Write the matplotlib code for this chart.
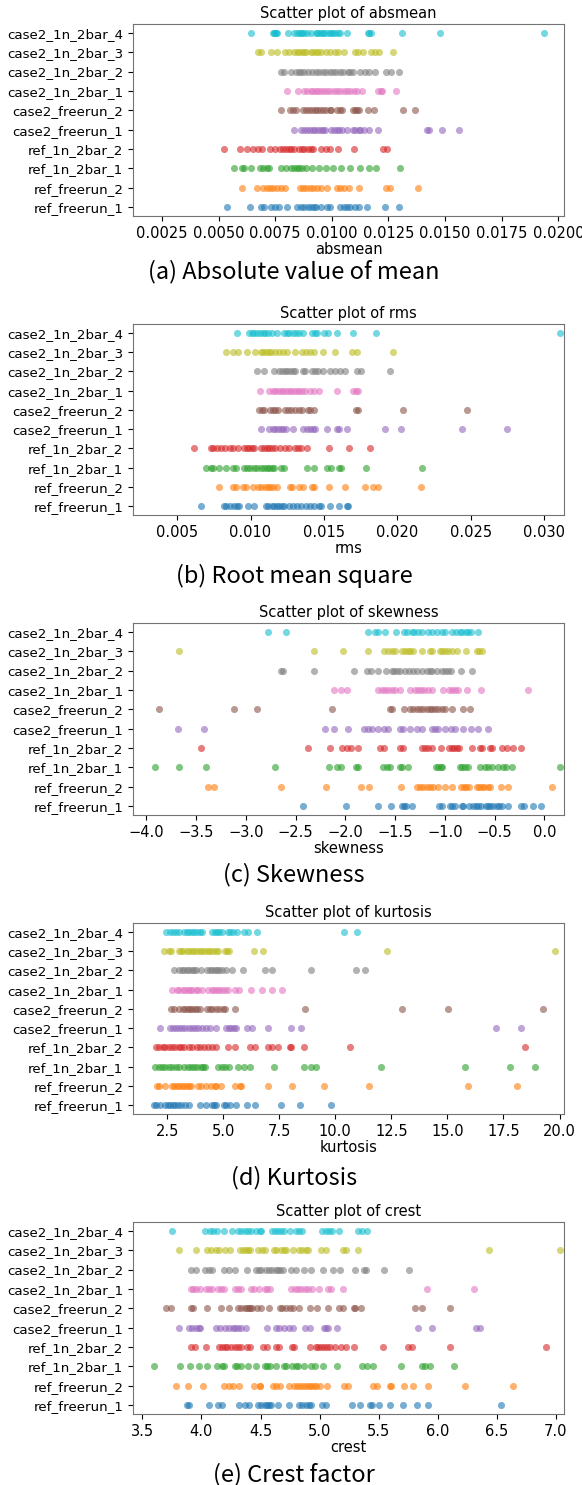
import matplotlib.pyplot as plt

categories = ['ref_freerun_1', 'ref_freerun_2', 'ref_1n_2bar_1', 'ref_1n_2bar_2',
              'case2_freerun_1', 'case2_freerun_2', 'case2_1n_2bar_1',
              'case2_1n_2bar_2', 'case2_1n_2bar_3', 'case2_1n_2bar_4']

# ---- absmean ----
absmean_ref_freerun_1 = [0.00538, 0.00637, 0.00685, 0.0070, 0.00732, 0.00751, 0.00766, 0.0080, 0.00847, 0.00862,
                         0.00879, 0.00896, 0.00909, 0.00921, 0.00932, 0.00953, 0.00979, 0.00991, 0.01038, 0.01053,
                         0.01065, 0.01082, 0.01104, 0.01119, 0.01156, 0.01234, 0.01296]
absmean_ref_freerun_2 = [0.00604, 0.00668, 0.00697, 0.00712, 0.00726, 0.00741, 0.00759, 0.00774, 0.00791, 0.00859,
                         0.00874, 0.00888, 0.00903, 0.00918, 0.00935, 0.00953, 0.00979, 0.01024, 0.01038, 0.01053,
                         0.01075, 0.01119, 0.01237, 0.01257, 0.0138]
absmean_ref_1n_2bar_1 = [0.0057, 0.00604, 0.00614, 0.00644, 0.00682, 0.00697, 0.00715, 0.00724, 0.00774, 0.00796,
                         0.00818, 0.00832, 0.00844, 0.00854, 0.00866, 0.00885, 0.00913, 0.00944, 0.00972, 0.01006,
                         0.01041, 0.01082, 0.01126, 0.01163, 0.01193, 0.01303]
absmean_ref_1n_2bar_2 = [0.00524, 0.00594, 0.00626, 0.00653, 0.00674, 0.0069, 0.00726, 0.00751, 0.00771, 0.00785,
                         0.00797, 0.00809, 0.00821, 0.00832, 0.00854, 0.00868, 0.00879, 0.00894, 0.00906, 0.00915,
                         0.00953, 0.00972, 0.00991, 0.01026, 0.01097, 0.01226, 0.01244]
absmean_case2_freerun_1 = [0.00835, 0.00862, 0.00876, 0.00891, 0.00903, 0.00915, 0.00926, 0.00938, 0.0095, 0.00962,
                           0.00971, 0.00997, 0.01009, 0.01021, 0.01032, 0.01044, 0.01068, 0.01094, 0.01101, 0.01122,
                           0.01126, 0.01141, 0.01166, 0.01203, 0.01422, 0.01431, 0.01485, 0.0156]
absmean_case2_freerun_2 = [0.00774, 0.00815, 0.00829, 0.0084, 0.00874, 0.00888, 0.009, 0.00913, 0.00925, 0.00935,
                           0.00947, 0.00959, 0.00972, 0.00991, 0.00997, 0.01024, 0.01035, 0.01047, 0.01094, 0.01101,
                           0.0111, 0.01119, 0.0116, 0.01184, 0.01312, 0.01368]
absmean_case2_1n_2bar_1 = [0.00803, 0.00851, 0.00876, 0.00891, 0.00906, 0.00918, 0.00929, 0.00941, 0.00953, 0.00965,
                           0.00979, 0.00994, 0.01009, 0.01024, 0.01038, 0.01053, 0.01068, 0.01082, 0.01097, 0.01112,
                           0.01131, 0.01204, 0.01215, 0.01222, 0.01285]
absmean_case2_1n_2bar_2 = [0.00775, 0.0079, 0.00819, 0.00841, 0.00853, 0.00865, 0.00879, 0.00894, 0.00912, 0.00929,
                           0.00944, 0.00962, 0.00976, 0.00991, 0.01006, 0.0102, 0.01035, 0.0105, 0.01072, 0.01082,
                           0.01093, 0.01126, 0.01146, 0.01166, 0.0119, 0.01237, 0.01259, 0.01296]
absmean_case2_1n_2bar_3 = [0.00675, 0.00688, 0.00732, 0.00756, 0.00791, 0.00809, 0.00832, 0.00844, 0.00856, 0.00868,
                           0.00876, 0.00888, 0.00906, 0.00918, 0.00929, 0.00941, 0.0095, 0.00976, 0.00994, 0.01012,
                           0.01026, 0.01053, 0.0110, 0.01116, 0.01137, 0.01171, 0.0119, 0.01207, 0.01268]
absmean_case2_1n_2bar_4 = [0.00644, 0.00741, 0.00745, 0.00749, 0.00753, 0.00759, 0.00806, 0.00832, 0.00844, 0.00856,
                           0.00862, 0.00868, 0.00879, 0.00891, 0.00906, 0.00928, 0.00935, 0.00943, 0.00953, 0.0096,
                           0.00965, 0.0098, 0.00991, 0.00998, 0.01003, 0.01015, 0.01026, 0.01038, 0.01066, 0.0116,
                           0.01166, 0.01172, 0.0131, 0.01478, 0.01937]

# ---- rms ----
rms_ref_freerun_1 = [0.00666, 0.00818, 0.00836, 0.00859, 0.00886, 0.00909, 0.00923, 0.00984, 0.01023, 0.01105,
                     0.0112, 0.01143, 0.01159, 0.01177, 0.01195, 0.01214, 0.01227, 0.01259, 0.01291, 0.01318,
                     0.01341, 0.01377, 0.01405, 0.01432, 0.01468, 0.01477, 0.01541, 0.01605, 0.01655, 0.01666]
rms_ref_freerun_2 = [0.00786, 0.00882, 0.009, 0.0095, 0.00968, 0.01014, 0.0105, 0.01068, 0.011, 0.01118,
                     0.01136, 0.01155, 0.01177, 0.01268, 0.01282, 0.01332, 0.01359, 0.01416, 0.01432, 0.01532,
                     0.01641, 0.01781, 0.01836, 0.01868, 0.02158]
rms_ref_1n_2bar_1 = [0.00695, 0.00734, 0.00745, 0.00786, 0.00836, 0.00882, 0.0090, 0.00955, 0.00973, 0.00995,
                     0.01023, 0.01045, 0.01068, 0.01091, 0.01109, 0.01127, 0.01145, 0.01159, 0.01205, 0.01227,
                     0.01386, 0.01432, 0.01518, 0.0155, 0.01605, 0.01614, 0.01785, 0.02167]
rms_ref_1n_2bar_2 = [0.00616, 0.0073, 0.00745, 0.00773, 0.00802, 0.00825, 0.00859, 0.00882, 0.00916, 0.00955,
                     0.00973, 0.00991, 0.01009, 0.01027, 0.01073, 0.01091, 0.01109, 0.01127, 0.01145, 0.01164,
                     0.0120, 0.01234, 0.01264, 0.01302, 0.01325, 0.01341, 0.01386, 0.01536, 0.01673, 0.01815]
rms_case2_freerun_1 = [0.0107, 0.01127, 0.0115, 0.01168, 0.01186, 0.01205, 0.01223, 0.01241, 0.01286, 0.01359,
                       0.01386, 0.01405, 0.01423, 0.01441, 0.01518, 0.01586, 0.01605, 0.01655, 0.01913, 0.02027,
                       0.02438, 0.02747]
rms_case2_freerun_2 = [0.01059, 0.01077, 0.01095, 0.01132, 0.0115, 0.01168, 0.01186, 0.01236, 0.01255, 0.01273,
                       0.013, 0.01327, 0.0135, 0.01391, 0.01405, 0.01432, 0.01721, 0.01733, 0.02041, 0.02477]
rms_case2_1n_2bar_1 = [0.01064, 0.01127, 0.0115, 0.01168, 0.01186, 0.01205, 0.01223, 0.01241, 0.01259, 0.01277,
                       0.01295, 0.01314, 0.01332, 0.0135, 0.01373, 0.01405, 0.01432, 0.01468, 0.01586, 0.01699,
                       0.01715, 0.01731]
rms_case2_1n_2bar_2 = [0.01045, 0.01095, 0.01159, 0.01195, 0.01214, 0.01232, 0.0125, 0.01268, 0.01286, 0.01305,
                       0.01355, 0.01373, 0.01416, 0.01439, 0.01461, 0.01491, 0.01541, 0.01577, 0.01609, 0.01643,
                       0.01726, 0.01753, 0.0195]
rms_case2_1n_2bar_3 = [0.00836, 0.00882, 0.00916, 0.00973, 0.01032, 0.01068, 0.01086, 0.01105, 0.01123, 0.01141,
                       0.01168, 0.01195, 0.01218, 0.01245, 0.013, 0.01348, 0.01377, 0.01405, 0.01432, 0.01491,
                       0.01575, 0.0169, 0.01726, 0.01973]
rms_case2_1n_2bar_4 = [0.00905, 0.00991, 0.01009, 0.01027, 0.01045, 0.01064, 0.01082, 0.0110, 0.01118, 0.01143,
                       0.01177, 0.01227, 0.01245, 0.01264, 0.01286, 0.01309, 0.01332, 0.01359, 0.01416, 0.01441,
                       0.0145, 0.015, 0.0153, 0.01591, 0.01699, 0.01856, 0.03105]

# ---- skewness ----
skew_ref_freerun_1 = [-2.43, -1.995, -1.677, -1.543, -1.429, -1.409, -1.395, -1.328, -1.06, -1.033, -0.95, -0.926,
                      -0.9, -0.832, -0.816, -0.759, -0.715, -0.692, -0.672, -0.638, -0.591, -0.571, -0.544, -0.514,
                      -0.481, -0.457, -0.431, -0.364, -0.236, -0.203, -0.112, -0.035]
skew_ref_freerun_2 = [-3.378, -3.318, -2.648, -2.192, -1.838, -1.764, -1.442, -1.285, -1.251, -1.218, -1.184,
                      -1.151, -1.117, -1.074, -1.0, -0.933, -0.839, -0.806, -0.792, -0.759, -0.682, -0.658, -0.631,
                      -0.605, -0.571, -0.544, -0.437, -0.364, 0.072]
skew_ref_1n_2bar_1 = [-3.914, -3.673, -3.395, -2.708, -2.165, -2.082, -2.048, -1.898, -1.871, -1.62, -1.586, -1.553,
                      -1.452, -1.429, -1.375, -1.094, -1.067, -1.04, -1.027, -0.849, -0.826, -0.799, -0.772, -0.648,
                      -0.598, -0.565, -0.531, -0.464, -0.414, -0.39, -0.33, 0.156]
skew_ref_1n_2bar_2 = [-3.452, -2.38, -2.155, -2.038, -1.988, -1.945, -1.878, -1.653, -1.61, -1.452, -1.419, -1.228,
                      -1.201, -1.174, -1.127, -1.044, -0.96, -0.933, -0.906, -0.879, -0.859, -0.732, -0.648, -0.625,
                      -0.548, -0.524, -0.424, -0.38, -0.313, -0.24]
skew_case2_freerun_1 = [-3.68, -3.418, -2.206, -2.115, -1.975, -1.811, -1.777, -1.73, -1.677, -1.61, -1.576, -1.452,
                        -1.419, -1.352, -1.285, -1.228, -1.127, -1.1, -1.074, -1.0, -0.94, -0.9, -0.816, -0.739,
                        -0.672, -0.565]
skew_case2_freerun_2 = [-3.874, -3.117, -2.886, -2.132, -1.553, -1.529, -1.415, -1.352, -1.318, -1.285, -1.251,
                        -1.218, -1.184, -1.151, -1.127, -1.1, -1.067, -1.033, -1.0, -0.926, -0.816, -0.749]
skew_case2_1n_2bar_1 = [-2.115, -2.048, -1.981, -1.67, -1.637, -1.603, -1.57, -1.529, -1.503, -1.452, -1.352, -1.301,
                        -1.275, -1.241, -1.208, -1.167, -1.127, -1.017, -0.96, -0.933, -0.9, -0.873, -0.782, -0.641,
                        -0.162]
skew_case2_1n_2bar_2 = [-2.645, -2.625, -2.316, -1.911, -1.787, -1.744, -1.67, -1.596, -1.536, -1.509, -1.482, -1.452,
                        -1.402, -1.362, -1.318, -1.285, -1.235, -1.184, -1.151, -1.127, -1.084, -1.033, -1.0, -0.967,
                        -0.94, -0.839, -0.732]
skew_case2_1n_2bar_3 = [-3.673, -2.316, -2.028, -1.77, -1.61, -1.576, -1.536, -1.503, -1.429, -1.402, -1.375, -1.348,
                        -1.318, -1.235, -1.151, -1.127, -1.05, -1.027, -1.0, -0.967, -0.933, -0.883, -0.792, -0.682,
                        -0.658, -0.631]
skew_case2_1n_2bar_4 = [-2.779, -2.601, -1.77, -1.704, -1.67, -1.603, -1.496, -1.415, -1.385, -1.335, -1.308, -1.268,
                        -1.228, -1.174, -1.134, -1.084, -1.027, -1.0, -0.933, -0.893, -0.849, -0.826, -0.792, -0.766,
                        -0.739, -0.672]

# ---- kurtosis ----
kurt_ref_freerun_1 = [1.896, 2.013, 2.19, 2.425, 2.528, 2.631, 2.749, 2.866, 2.969, 3.116, 3.308, 3.455, 3.955, 4.249,
                      4.484, 4.587, 4.69, 5.028, 5.131, 5.322, 5.572, 6.058, 6.425, 7.558, 8.425, 9.808]
kurt_ref_freerun_2 = [2.043, 2.16, 2.425, 2.719, 2.822, 2.925, 3.043, 3.16, 3.263, 3.366, 3.484, 3.558, 3.896, 3.999,
                      4.219, 4.44, 4.631, 4.69, 4.925, 5.513, 5.763, 5.808, 7.014, 8.087, 9.514, 11.497, 15.924,
                      18.086]
kurt_ref_1n_2bar_1 = [1.94, 2.16, 2.278, 2.425, 2.572, 2.719, 2.896, 3.013, 3.263, 3.411, 3.558, 3.705, 3.852, 3.999,
                      4.102, 4.19, 4.778, 4.955, 5.072, 5.249, 5.66, 5.91, 6.205, 7.249, 8.587, 8.896, 9.146, 12.027,
                      15.777, 17.792, 18.924]
kurt_ref_1n_2bar_2 = [2.013, 2.131, 2.307, 2.425, 2.572, 2.719, 2.866, 3.013, 3.116, 3.263, 3.455, 3.602, 3.852,
                      3.955, 4.146, 4.337, 4.513, 4.66, 5.205, 5.513, 6.205, 6.425, 7.014, 7.161, 7.425, 7.969, 8.043,
                      8.587, 10.66, 18.483]
kurt_case2_freerun_1 = [2.205, 2.631, 2.749, 2.896, 3.013, 3.16, 3.308, 3.455, 3.602, 3.749, 3.896, 4.043, 4.249,
                        4.396, 4.69, 5.131, 5.249, 5.366, 5.484, 5.572, 6.058, 6.278, 7.014, 8.043, 8.455, 17.174,
                        18.262]
kurt_case2_freerun_2 = [2.675, 2.822, 3.013, 3.19, 3.308, 3.411, 3.513, 3.631, 3.749, 3.852, 3.955, 4.293, 4.396,
                        4.513, 4.69, 4.837, 4.984, 5.102, 5.513, 8.631, 12.983, 15.027, 19.277]
kurt_case2_1n_2bar_1 = [2.719, 2.925, 3.043, 3.19, 3.308, 3.411, 3.513, 3.631, 3.778, 3.896, 4.043, 4.337, 4.484,
                        4.602, 4.734, 4.837, 4.955, 5.102, 5.219, 5.513, 5.69, 6.249, 6.749, 7.19, 7.646]
kurt_case2_1n_2bar_2 = [2.822, 3.043, 3.16, 3.263, 3.366, 3.484, 3.602, 3.705, 3.808, 3.999, 4.293, 4.396, 4.513,
                        4.631, 4.734, 4.837, 4.955, 5.131, 5.396, 5.881, 6.866, 7.161, 8.896, 10.924, 11.306]
kurt_case2_1n_2bar_3 = [2.381, 2.572, 2.675, 3.013, 3.116, 3.219, 3.366, 3.484, 3.602, 3.719, 3.837, 3.955, 4.072,
                        4.19, 4.308, 4.425, 4.543, 4.66, 4.778, 5.102, 5.19, 5.249, 6.396, 6.763, 12.306, 19.79]
kurt_case2_1n_2bar_4 = [2.455, 2.631, 2.749, 2.896, 3.013, 3.263, 3.366, 3.484, 3.602, 3.719, 3.837, 3.955, 4.072,
                        4.513, 4.631, 4.734, 4.837, 4.955, 5.219, 5.322, 5.425, 5.616, 5.91, 6.102, 6.499, 10.396,
                        10.983]

# ---- crest ----
crest_ref_freerun_1 = [3.876, 3.893, 4.062, 4.139, 4.175, 4.317, 4.365, 4.401, 4.478, 4.506, 4.534, 4.554, 4.571,
                       4.591, 4.647, 4.74, 4.825, 4.853, 4.882, 4.91, 4.93, 5.023, 5.057, 5.277, 5.339, 5.424, 5.446,
                       5.506, 5.596, 5.709, 5.822, 5.918, 6.534]
crest_ref_freerun_2 = [3.78, 3.884, 4.017, 4.187, 4.232, 4.271, 4.317, 4.441, 4.492, 4.497, 4.605, 4.633, 4.667, 4.74,
                       4.78, 4.808, 4.836, 4.859, 4.887, 4.91, 4.93, 4.949, 4.972, 5.006, 5.062, 5.204, 5.24, 5.452,
                       5.486, 5.593, 5.607, 5.712, 5.794, 5.918, 6.235, 6.641]
crest_ref_1n_2bar_1 = [3.602, 3.822, 3.904, 3.983, 4.045, 4.13, 4.175, 4.187, 4.288, 4.3, 4.336, 4.393, 4.458, 4.534,
                       4.554, 4.576, 4.627, 4.695, 4.712, 4.769, 4.797, 4.817, 4.865, 4.93, 4.958, 5.028, 5.147,
                       5.359, 5.401, 5.455, 5.689, 5.867, 5.89, 5.935, 6.139]
crest_ref_1n_2bar_2 = [3.913, 3.949, 4.034, 4.147, 4.175, 4.195, 4.215, 4.252, 4.288, 4.308, 4.336, 4.384, 4.413,
                       4.52, 4.554, 4.633, 4.656, 4.769, 4.78, 4.921, 4.966, 4.986, 5.014, 5.034, 5.062, 5.085, 5.127,
                       5.184, 5.221, 5.288, 5.54, 5.749, 5.783, 6.107, 6.921]
crest_case2_freerun_1 = [3.808, 3.898, 3.921, 3.955, 3.978, 3.989, 4.119, 4.158, 4.195, 4.232, 4.271, 4.288, 4.308,
                         4.336, 4.379, 4.554, 4.627, 4.656, 4.695, 4.74, 4.774, 4.873, 4.921, 5.034, 5.051, 5.071,
                         5.147, 5.833, 5.955, 6.325, 6.356]
crest_case2_freerun_2 = [3.701, 3.743, 3.913, 3.927, 4.045, 4.167, 4.232, 4.308, 4.336, 4.365, 4.384, 4.401, 4.413,
                         4.43, 4.469, 4.506, 4.571, 4.661, 4.684, 4.712, 4.752, 4.774, 4.825, 4.915, 4.978, 5.071,
                         5.164, 5.198, 5.288, 5.302, 5.353, 5.805, 5.867, 6.105]
crest_case2_1n_2bar_1 = [3.913, 3.932, 3.955, 3.989, 4.034, 4.062, 4.091, 4.139, 4.167, 4.187, 4.288, 4.308, 4.336,
                         4.421, 4.441, 4.486, 4.534, 4.554, 4.582, 4.76, 4.788, 4.817, 4.845, 4.873, 4.901, 4.938,
                         4.994, 5.071, 5.099, 5.198, 5.913, 6.311]
crest_case2_1n_2bar_2 = [3.913, 3.955, 4.026, 4.062, 4.091, 4.187, 4.232, 4.288, 4.384, 4.463, 4.486, 4.506, 4.548,
                         4.571, 4.599, 4.627, 4.647, 4.667, 4.689, 4.76, 4.797, 4.865, 4.93, 5.028, 5.113, 5.175,
                         5.297, 5.373, 5.396, 5.545, 5.76]
crest_case2_1n_2bar_3 = [3.808, 3.955, 4.045, 4.082, 4.119, 4.147, 4.201, 4.243, 4.328, 4.35, 4.373, 4.393, 4.413,
                         4.478, 4.514, 4.534, 4.61, 4.633, 4.675, 4.695, 4.718, 4.774, 4.825, 4.853, 4.882, 4.904,
                         5.011, 5.057, 5.198, 5.221, 5.322, 6.438, 7.034]
crest_case2_1n_2bar_4 = [3.749, 4.026, 4.068, 4.096, 4.13, 4.187, 4.26, 4.308, 4.336, 4.365, 4.393, 4.421, 4.463,
                         4.492, 4.506, 4.599, 4.619, 4.647, 4.675, 4.695, 4.746, 4.797, 4.825, 4.853, 5.023, 5.057,
                         5.079, 5.102, 5.164, 5.325, 5.359, 5.401]

absmean = [absmean_ref_freerun_1, absmean_ref_freerun_2, absmean_ref_1n_2bar_1, absmean_ref_1n_2bar_2,
           absmean_case2_freerun_1, absmean_case2_freerun_2, absmean_case2_1n_2bar_1, absmean_case2_1n_2bar_2,
           absmean_case2_1n_2bar_3, absmean_case2_1n_2bar_4]
rms = [rms_ref_freerun_1, rms_ref_freerun_2, rms_ref_1n_2bar_1, rms_ref_1n_2bar_2,
       rms_case2_freerun_1, rms_case2_freerun_2, rms_case2_1n_2bar_1, rms_case2_1n_2bar_2,
       rms_case2_1n_2bar_3, rms_case2_1n_2bar_4]
skewness = [skew_ref_freerun_1, skew_ref_freerun_2, skew_ref_1n_2bar_1, skew_ref_1n_2bar_2,
            skew_case2_freerun_1, skew_case2_freerun_2, skew_case2_1n_2bar_1, skew_case2_1n_2bar_2,
            skew_case2_1n_2bar_3, skew_case2_1n_2bar_4]
kurtosis = [kurt_ref_freerun_1, kurt_ref_freerun_2, kurt_ref_1n_2bar_1, kurt_ref_1n_2bar_2,
            kurt_case2_freerun_1, kurt_case2_freerun_2, kurt_case2_1n_2bar_1, kurt_case2_1n_2bar_2,
            kurt_case2_1n_2bar_3, kurt_case2_1n_2bar_4]
crest = [crest_ref_freerun_1, crest_ref_freerun_2, crest_ref_1n_2bar_1, crest_ref_1n_2bar_2,
         crest_case2_freerun_1, crest_case2_freerun_2, crest_case2_1n_2bar_1, crest_case2_1n_2bar_2,
         crest_case2_1n_2bar_3, crest_case2_1n_2bar_4]

captions = ['(a) Absolute value of mean', '(b) Root mean square', '(c) Skewness',
            '(d) Kurtosis', '(e) Crest factor']
names = ['absmean', 'rms', 'skewness', 'kurtosis', 'crest']
ticks = [[0.0025, 0.005, 0.0075, 0.01, 0.0125, 0.015, 0.0175, 0.02],
         [0.005, 0.01, 0.015, 0.02, 0.025, 0.03],
         [-4.0, -3.5, -3.0, -2.5, -2.0, -1.5, -1.0, -0.5, 0.0],
         [2.5, 5.0, 7.5, 10.0, 12.5, 15.0, 17.5, 20.0],
         [3.5, 4.0, 4.5, 5.0, 5.5, 6.0, 6.5, 7.0]]
tick_fmt = ['{:.4f}', '{:.3f}', '{:.1f}', '{:.1f}', '{:.1f}']
xlims = [(0.00122, 0.02025), (0.0020, 0.03134), (-4.133, 0.196), (0.98, 20.2), (3.42, 7.07)]

W, H = 582, 1485
fig = plt.figure(figsize=(W / 100, H / 100), dpi=100)

# axes boxes in pixels (top, bottom)
boxes = [(24, 216), (324, 515), (623, 815), (923, 1114), (1222, 1414)]
cap_y = [272, 576, 875, 1178, 1475]
left, right = 133, 564

for k, data in enumerate([absmean, rms, skewness, kurtosis, crest]):
    top, bot = boxes[k]
    ax = fig.add_axes([left / W, 1 - bot / H, (right - left) / W, (bot - top) / H])
    for i, vals in enumerate(data):
        ax.scatter(vals, [categories[i]] * len(vals), s=26, alpha=0.6, color='C%d' % i, linewidths=0)
    ax.set_xlim(*xlims[k])
    ax.set_xticks(ticks[k])
    ax.set_xticklabels([tick_fmt[k].format(t).replace('-', '\u2212') for t in ticks[k]])
    ax.tick_params(axis='x', labelsize=10.5)
    ax.tick_params(axis='y', labelsize=9.6)
    ax.set_title('Scatter plot of ' + names[k], fontsize=10.5, pad=4)
    ax.set_xlabel(names[k], fontsize=10.5, labelpad=1)
    for sp in ax.spines.values():
        sp.set_color('0.45')
    fig.text(0.505, 1 - cap_y[k] / H, captions[k], ha='center', va='center',
             fontsize=17, family=['Noto Sans CJK KR', 'DejaVu Sans'])

fig.savefig('out.png', dpi=100)
